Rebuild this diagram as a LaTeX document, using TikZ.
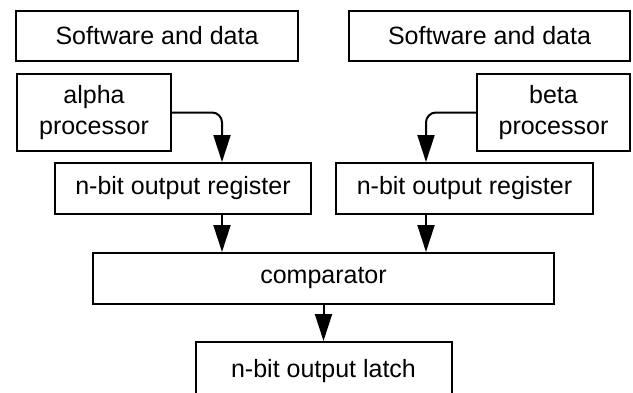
\documentclass[tikz,border=0pt]{standalone}
\usepackage{fontspec}
\setmainfont{Liberation Sans}
\usetikzlibrary{arrows.meta,positioning,calc}

\tikzset{
  block/.style={draw, line width=2pt, minimum height=51pt, inner sep=0pt,
    align=center, font=\fontsize{25}{31}\selectfont},
  flow/.style={line width=2pt, rounded corners=10pt,
    -{Triangle[length=27pt,width=17pt]}},
}

\begin{document}
\begin{tikzpicture}[x=1pt,y=-1pt]
    \clip (0,0) rectangle (633,392);

    % top row
    \node[block, minimum width=282pt, minimum height=50pt] (softA) at (157,36) {Software and data};
    \node[block, minimum width=281pt, minimum height=50pt] (softB) at (489.5,36) {Software and data};

    % processors
    \node[block, minimum width=154pt, minimum height=77pt] (alpha) at (94,112.5) {alpha\\processor};
    \node[block, minimum width=153pt, minimum height=77pt] (beta) at (553.5,112.5) {beta\\processor};

    % registers
    \node[block, minimum width=256pt] (regA) at (183,188.5) {n-bit output register};
    \node[block, minimum width=257pt] (regB) at (464.5,188.5) {n-bit output register};

    \node[block, minimum width=461pt] (comp) at (323.5,278.5) {comparator};
    % latch runs off the bottom edge
    \node[block, minimum width=256pt, minimum height=58pt] (latch) at (323.5,371) {n-bit output latch};

    \draw[flow] (alpha.east) -| ([xshift=39pt]regA.north);
    \draw[flow] (beta.west) -| ([xshift=-38.5pt]regB.north);
    \draw[flow] ([xshift=39pt]regA.south) -- ([xshift=39pt]regA.south |- comp.north);
    \draw[flow] ([xshift=-38.5pt]regB.south) -- ([xshift=-38.5pt]regB.south |- comp.north);
    \draw[flow] (comp) -- (latch);
\end{tikzpicture}
\end{document}
